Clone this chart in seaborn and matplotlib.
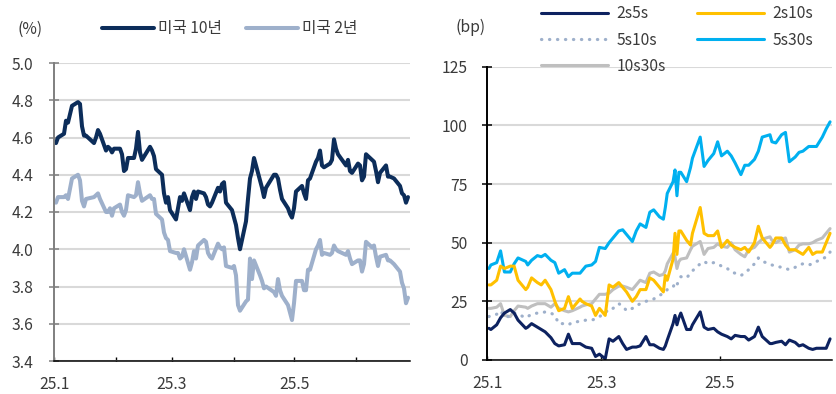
import pandas as pd
import matplotlib
matplotlib.use("Agg")
import matplotlib.pyplot as plt
import matplotlib.dates as mdates
from matplotlib.ticker import FuncFormatter, FixedLocator
from matplotlib.lines import Line2D
import seaborn as sns

sns.set_theme(style="white")
plt.rcParams["font.family"] = ["Noto Sans CJK KR", "DejaVu Sans"]
TXT = "#3a3a3a"
FS = 11.3

# ---- US Treasury yields, daily closes (%) ----
holidays = ["2025-01-09", "2025-01-20", "2025-02-17", "2025-04-18", "2025-05-26", "2025-06-19"]
yield_dates = pd.bdate_range("2025-01-02", "2025-06-27", freq="C", holidays=holidays)

us10y = [
    4.57, 4.60, 4.62, 4.69, 4.68, 4.77, 4.79, 4.78, 4.66, 4.61, 4.61, 4.57, 4.60, 4.64, 4.62, 4.53, 4.55, 4.54, 4.52, 4.54,
    4.54, 4.51, 4.42, 4.43, 4.49, 4.49, 4.54, 4.63, 4.52, 4.48, 4.55, 4.53, 4.50, 4.43, 4.40, 4.30, 4.25, 4.28, 4.21,
    4.16, 4.22, 4.28, 4.26, 4.30, 4.21, 4.28, 4.31, 4.27, 4.31, 4.30, 4.28, 4.24, 4.23, 4.25, 4.33, 4.31, 4.35, 4.36, 4.25, 4.21,
    4.17, 4.13, 4.06, 4.00, 4.15, 4.27, 4.38, 4.42, 4.49, 4.37, 4.33, 4.28, 4.33, 4.40, 4.40, 4.38, 4.32, 4.27, 4.22, 4.19, 4.17,
    4.22, 4.31, 4.34, 4.30, 4.27, 4.37, 4.38, 4.47, 4.49, 4.53, 4.45, 4.44, 4.46, 4.48, 4.59, 4.54, 4.51, 4.45, 4.48, 4.42, 4.41,
    4.46, 4.45, 4.37, 4.39, 4.51, 4.48, 4.47, 4.42, 4.36, 4.41, 4.45, 4.39, 4.39, 4.38, 4.34, 4.30, 4.29, 4.25, 4.28,
]
us2y = [
    4.25, 4.28, 4.28, 4.29, 4.27, 4.38, 4.40, 4.37, 4.26, 4.23, 4.27, 4.28, 4.29, 4.30, 4.27, 4.20, 4.20, 4.22, 4.18, 4.22,
    4.24, 4.20, 4.18, 4.21, 4.29, 4.28, 4.29, 4.36, 4.30, 4.26, 4.29, 4.27, 4.27, 4.19, 4.16, 4.09, 4.06, 4.05, 3.99,
    3.98, 3.98, 3.95, 3.96, 4.00, 3.89, 3.93, 3.99, 3.95, 4.02, 4.05, 4.04, 3.98, 3.96, 3.95, 4.03, 4.01, 4.00, 4.01, 3.91, 3.90,
    3.91, 3.86, 3.70, 3.67, 3.72, 3.73, 3.95, 3.84, 3.94, 3.86, 3.83, 3.79, 3.80, 3.77, 3.75, 3.84, 3.78, 3.75, 3.70, 3.66, 3.62,
    3.71, 3.83, 3.83, 3.78, 3.78, 3.89, 3.89, 4.00, 4.02, 4.05, 3.97, 3.98, 3.97, 3.98, 4.02, 4.00, 3.99, 3.97, 3.99, 3.95, 3.92,
    3.94, 3.94, 3.88, 3.92, 4.04, 4.01, 4.02, 3.96, 3.91, 3.96, 3.97, 3.94, 3.94, 3.92, 3.88, 3.82, 3.79, 3.71, 3.74,
]

# ---- curve spreads (bp) ----
spread_days = [
    "01-02", "01-03", "01-06", "01-08", "01-10", "01-13", "01-15", "01-17", "01-21", "01-22", "01-24", "01-27", "01-29", "01-31",
    "02-03", "02-05", "02-07", "02-10", "02-12", "02-14", "02-18", "02-19", "02-21", "02-24", "02-26", "02-28",
    "03-03", "03-05", "03-07", "03-10", "03-12", "03-14", "03-17", "03-19", "03-21", "03-24", "03-26", "03-28", "03-31",
    "04-02", "04-03", "04-04", "04-07", "04-08", "04-09", "04-10", "04-11", "04-14", "04-16", "04-17", "04-21", "04-23", "04-25", "04-28", "04-30",
    "05-02", "05-05", "05-07", "05-09", "05-12", "05-14", "05-16", "05-19", "05-21", "05-23", "05-27", "05-28", "05-30",
    "06-02", "06-04", "06-06", "06-09", "06-11", "06-13", "06-16", "06-18", "06-20", "06-23", "06-25", "06-27",
]
sp_2s5s = [
    13.5, 13, 15, 18, 20, 21.5, 20, 17, 13.5, 14, 15.5, 14, 13, 12,
    9.5, 7, 6, 6.5, 11, 7, 7, 6.5, 5.5, 5, 1.5, 2.5,
    0.5, 9, 8, 10, 7, 4.5, 5.5, 5.5, 6, 10, 6.5, 6.5, 5,
    4.5, 6, 8.5, 15.5, 19, 15, 18, 20, 13, 13, 15, 20.5, 14, 13, 13.5, 12,
    11, 10, 9, 10.5, 10, 10, 8.5, 10, 14, 10, 7, 7, 7.5,
    8, 6.5, 8.5, 7.5, 6, 6.5, 5, 4.5, 5, 5, 5, 9,
]
sp_2s10s = [
    32, 32, 34, 40, 39, 40, 40, 34, 30, 31, 35, 33, 32, 34,
    30, 25, 21, 22, 27, 22, 26, 25, 24, 23, 19, 22,
    19, 32, 31, 33, 31, 29, 25, 27, 30, 30, 35, 34, 31,
    29, 36, 34, 43, 54, 45, 55, 55, 51, 49, 54, 65, 54, 53, 53, 55,
    48, 51, 49, 48, 47, 48, 46, 50, 57, 52, 48, 49, 52,
    52, 49, 47, 47, 46, 45, 48, 45, 46, 46, 50, 54,
]
sp_5s10s = [
    18.5, 19, 19.5, 21, 18.5, 18.5, 20, 19.5, 18, 18.5, 19.5, 20, 20, 20.5,
    20, 19, 15.5, 15.5, 15, 16, 16.5, 16.5, 17, 17, 17.5, 18.5,
    20, 22, 22, 24, 23, 21, 22, 23, 24, 25, 25.5, 26, 27.5,
    28.5, 29, 30, 31, 33, 32, 34, 35.5, 35, 37, 38, 41, 42, 41, 41.5, 41,
    40, 39, 37.5, 37, 36, 37, 38.5, 41, 43.5, 42, 41, 40.5, 40,
    39.5, 39, 38.5, 39.5, 40.5, 41, 40.5, 41, 42, 43, 44, 46,
]
sp_5s30s = [
    39, 40.5, 41.5, 46.5, 37.5, 37.5, 41, 43.5, 42, 40.5, 42.5, 44.5, 44, 45,
    42.5, 41.5, 37, 38.5, 35.5, 37, 37, 38, 40, 40.5, 42, 48,
    47.5, 50, 52, 55, 55.5, 53.5, 50.5, 55, 58, 56.5, 63, 64, 61,
    60, 65, 71, 76, 81, 70, 80, 80, 76, 82, 86, 95, 82.5, 85, 88, 93,
    87, 89, 87, 84, 79, 83, 83, 85.5, 89, 95, 96, 93, 92.5,
    96, 97, 84.5, 86.5, 88.5, 89, 91, 91, 91, 95, 98.5, 101.5,
]
sp_10s30s = [
    22, 22, 22.5, 24, 19, 18.5, 21, 23, 22.5, 22, 23, 24, 24, 24,
    22.5, 24, 22, 21, 20.5, 21, 22.5, 23, 23.5, 24, 26, 28,
    28, 28.5, 30, 31.5, 31.5, 31, 30, 32, 34, 33, 37, 37.5, 36,
    36.5, 38, 41, 45.5, 44, 39, 42, 43, 43.5, 47, 48.5, 50.5, 45, 47.5, 48, 49.5,
    48.5, 48, 50, 47, 45, 44, 47, 48, 50, 51.5, 52.5, 51, 50,
    51.5, 52, 46, 47, 49, 49.5, 49.5, 50, 51, 52, 54, 56,
]
spread_dates = pd.to_datetime(["2025-" + d for d in spread_days])

yields = pd.DataFrame({"date": yield_dates, "미국 10년": us10y, "미국 2년": us2y})
spreads = pd.DataFrame({"date": spread_dates, "2s5s": sp_2s5s, "2s10s": sp_2s10s,
                        "5s10s": sp_5s10s, "5s30s": sp_5s30s, "10s30s": sp_10s30s})

W, H = 837, 394
fig = plt.figure(figsize=(W / 100, H / 100), dpi=100)
axL = fig.add_axes([54 / W, 33 / H, 356 / W, 298 / H])
axR = fig.add_axes([487 / W, 34 / H, 345 / W, 293.3 / H])

x0, x1 = pd.Timestamp("2025-01-01"), pd.Timestamp("2025-06-28")


def month_label(v, pos):
    d = mdates.num2date(v)
    return f"{d.year % 100}.{d.month}" if d.month % 2 == 1 else ""


def style_axes(ax, yticks, yfmt, ycolor, xtick_dates, ypad):
    ax.set_xlim(x0, x1)
    ax.set_ylim(yticks[0], yticks[-1])
    ax.yaxis.set_major_locator(FixedLocator(yticks))
    ax.yaxis.set_major_formatter(FuncFormatter(yfmt))
    ax.xaxis.set_major_locator(FixedLocator(mdates.date2num(xtick_dates)))
    ax.xaxis.set_major_formatter(FuncFormatter(month_label))
    ax.grid(axis="y", color="#d9d9d9", lw=1.5)
    ax.grid(axis="x", visible=False)
    ax.set_axisbelow(True)
    for s in ("top", "right"):
        ax.spines[s].set_visible(False)
    ax.spines["left"].set_color(ycolor)
    ax.spines["left"].set_linewidth(1.4)
    ax.spines["bottom"].set_color("#000000")
    ax.spines["bottom"].set_linewidth(1.1)
    ax.tick_params(axis="y", direction="inout", length=7, width=1.1, color=ycolor,
                   pad=ypad, labelsize=FS, labelcolor=TXT, left=True)
    ax.tick_params(axis="x", direction="in", length=3, width=1.0, color="#000000",
                   pad=11, labelsize=FS, labelcolor=TXT, bottom=True)
    ax.set_xlabel("")
    ax.set_ylabel("")


# left panel: yields
c10, c2 = "#0c2d5a", "#9eb0cb"
sns.lineplot(data=yields, x="date", y="미국 10년", ax=axL, color=c10, lw=2.9, legend=False)
sns.lineplot(data=yields, x="date", y="미국 2년", ax=axL, color=c2, lw=2.9, legend=False)
style_axes(axL, [3.4, 3.6, 3.8, 4.0, 4.2, 4.4, 4.6, 4.8, 5.0],
           lambda v, p: f"{v:.1f}", "#7f7f7f", pd.date_range(x0, periods=6, freq="MS"), 11.5)

# right panel: spreads
pal = {"2s5s": "#0d2260", "2s10s": "#ffc000", "5s10s": "#9eb0cb", "5s30s": "#00b0f0", "10s30s": "#bfbfbf"}
DOT = (0, (0.1, 2.4))
for name in ["10s30s", "5s10s", "5s30s", "2s10s", "2s5s"]:
    kw = dict(color=pal[name], lw=2.2, legend=False)
    if name == "5s10s":
        kw.update(linestyle=DOT, dash_capstyle="round", lw=2.3)
    sns.lineplot(data=spreads, x="date", y=name, ax=axR, **kw)
style_axes(axR, [0, 25, 50, 75, 100, 125], lambda v, p: f"{v:.0f}", "#000000",
           pd.to_datetime(["2025-01-01", "2025-03-01", "2025-05-01"]), 10.5)

# legends
hL = [Line2D([], [], color=c10, lw=2.9), Line2D([], [], color=c2, lw=2.9)]
fig.legend(hL, ["미국 10년", "미국 2년"], loc="center left", bbox_to_anchor=(94 / W, 1 - 29 / H),
           ncol=2, frameon=False, fontsize=FS, handlelength=3.3, handletextpad=0.3,
           columnspacing=1.5, borderpad=0, labelcolor=TXT)

order = ["2s5s", "5s10s", "10s30s", "2s10s", "5s30s"]
hR = []
for name in order:
    if name == "5s10s":
        hR.append(Line2D([], [], color=pal[name], lw=2.3, linestyle=DOT, dash_capstyle="round"))
    else:
        hR.append(Line2D([], [], color=pal[name], lw=2.2))
fig.legend(hR, order, loc="center left", bbox_to_anchor=(533 / W, 1 - 40 / H),
           ncol=2, frameon=False, fontsize=FS, handlelength=4.3, handletextpad=0.5,
           columnspacing=2.0, labelspacing=0.6, borderpad=0, labelcolor=TXT)

fig.text(30 / W, 1 - 29 / H, "(%)", ha="center", va="center", fontsize=FS, color=TXT)
fig.text(471 / W, 1 - 27 / H, "(bp)", ha="center", va="center", fontsize=FS, color=TXT)

fig.savefig("out.png", dpi=100)
